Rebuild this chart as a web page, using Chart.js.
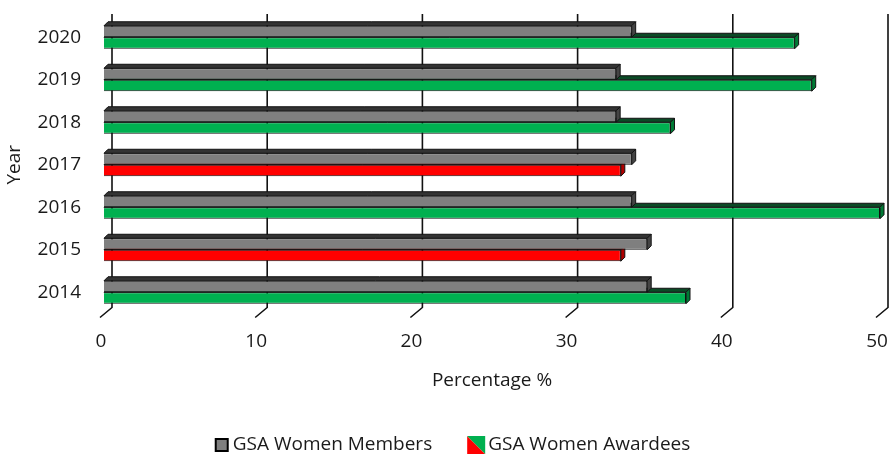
<!DOCTYPE html>
<html>
<head>
<meta charset="utf-8">
<script src="https://cdn.jsdelivr.net/npm/chart.js@4.4.1/dist/chart.umd.min.js"></script>
<style>
  html, body { margin: 0; background: #fff; }
  #wrap { width: 896px; height: 460px; }
</style>
</head>
<body>
<div id="wrap"><canvas id="chart"></canvas></div>
<script>
// data (percent)
var years    = ['2020', '2019', '2018', '2017', '2016', '2015', '2014'];
var members  = [34, 33, 33, 34, 34, 35, 35];
var awardees = [44.5, 45.6, 36.5, 33.3, 50, 33.3, 37.5];
var xTicks   = [0, 10, 20, 30, 40, 50];
var seriesNames = ['GSA Women Members', 'GSA Women Awardees'];

var FONT = '"Open Sans", sans-serif';
var FSIZE = 19;
var GRAY = '#7f7f7f', GREEN = '#00b050', RED = '#ff0000';

// awardees below the member share are drawn red
function awardColor(i) { return awardees[i] < members[i] ? RED : GREEN; }
function faceColors(di, i) {
  if (di === 0) return { top: '#333333', side: '#444444' };
  if (awardColor(i) === RED) return { top: '#7a0000', side: '#b00000' };
  return { top: '#0b4a26', side: '#007a35' };
}

var DEPTH = 4;

// back-wall grid lines with the little floor step, plus bar depth faces
var threeD = {
  id: 'threeD',
  beforeDatasetsDraw: function (chart) {
    var ctx = chart.ctx, area = chart.chartArea, xs = chart.scales.x;
    ctx.save();
    ctx.strokeStyle = '#111';
    ctx.lineWidth = 1.6;
    xTicks.forEach(function (v) {
      var px = xs.getPixelForValue(v);
      ctx.beginPath();
      ctx.moveTo(px + 8, area.top - 2);
      ctx.lineTo(px + 8, area.bottom - 6);
      ctx.lineTo(px - 4, area.bottom + 4);
      ctx.stroke();
    });

    ctx.lineWidth = 1;
    ctx.strokeStyle = '#111';
    [1, 0].forEach(function (di) {
      chart.getDatasetMeta(di).data.forEach(function (bar, i) {
        var p = bar.getProps(['x', 'y', 'base', 'height'], true);
        var x0 = p.base, x1 = p.x, y0 = p.y - p.height / 2, y1 = p.y + p.height / 2;
        var c = faceColors(di, i);
        ctx.fillStyle = c.top;
        ctx.beginPath();
        ctx.moveTo(x0, y0);
        ctx.lineTo(x0 + DEPTH, y0 - DEPTH);
        ctx.lineTo(x1 + DEPTH, y0 - DEPTH);
        ctx.lineTo(x1, y0);
        ctx.closePath();
        ctx.fill(); ctx.stroke();
        ctx.fillStyle = c.side;
        ctx.beginPath();
        ctx.moveTo(x1, y0);
        ctx.lineTo(x1 + DEPTH, y0 - DEPTH);
        ctx.lineTo(x1 + DEPTH, y1 - DEPTH);
        ctx.lineTo(x1, y1);
        ctx.closePath();
        ctx.fill(); ctx.stroke();
      });
    });
    ctx.restore();
  }
};

// legend drawn under the axis title
var bottomLegend = {
  id: 'bottomLegend',
  afterDraw: function (chart) {
    var ctx = chart.ctx;
    ctx.save();
    ctx.font = FSIZE + 'px ' + FONT;
    ctx.textBaseline = 'middle';
    var w1 = ctx.measureText(seriesNames[0]).width;
    var w2 = ctx.measureText(seriesNames[1]).width;
    var total = 12 + 5 + w1 + 35 + 18 + 3 + w2;
    var x = 453 - total / 2, cy = 445;
    ctx.fillStyle = GRAY;
    ctx.fillRect(x, cy - 6, 12, 12);
    ctx.strokeStyle = '#000';
    ctx.lineWidth = 2;
    ctx.strokeRect(x, cy - 6, 12, 12);
    x += 17;
    ctx.fillStyle = '#1a1a1a';
    ctx.fillText(seriesNames[0], x, cy);
    x += w1 + 35;
    ctx.fillStyle = RED;
    ctx.beginPath();
    ctx.moveTo(x, cy - 9); ctx.lineTo(x + 18, cy + 9); ctx.lineTo(x, cy + 9);
    ctx.closePath(); ctx.fill();
    ctx.fillStyle = GREEN;
    ctx.beginPath();
    ctx.moveTo(x, cy - 9); ctx.lineTo(x + 18, cy - 9); ctx.lineTo(x + 18, cy + 9);
    ctx.closePath(); ctx.fill();
    x += 21;
    ctx.fillStyle = '#1a1a1a';
    ctx.fillText(seriesNames[1], x, cy);
    ctx.restore();
  }
};

new Chart(document.getElementById('chart'), {
  type: 'bar',
  data: {
    labels: years,
    datasets: [
      {
        label: seriesNames[0],
        data: members,
        backgroundColor: GRAY,
        borderColor: '#111',
        borderWidth: 1
      },
      {
        label: seriesNames[1],
        data: awardees,
        backgroundColor: years.map(function (y, i) { return awardColor(i); }),
        borderColor: '#111',
        borderWidth: 1
      }
    ]
  },
  options: {
    indexAxis: 'y',
    responsive: true,
    maintainAspectRatio: false,
    animation: false,
    categoryPercentage: 0.54,
    barPercentage: 1.0,
    layout: { padding: { top: 16, right: 16, left: 0, bottom: 64.5 } },
    plugins: {
      legend: { display: false },
      tooltip: { enabled: false }
    },
    scales: {
      x: {
        min: 0,
        max: 50,
        afterBuildTicks: function (scale) {
          scale.ticks = xTicks.map(function (v) { return { value: v }; });
        },
        afterFit: function (scale) {
          scale.height = 82;
          scale.paddingLeft = 0; scale.paddingRight = 0;
          scale.paddingTop = 0; scale.paddingBottom = 0;
        },
        grid: { display: false, drawTicks: false },
        border: { display: false },
        ticks: {
          padding: 17,
          labelOffset: -3,
          color: '#1a1a1a',
          font: { family: FONT, size: FSIZE }
        },
        title: {
          display: true,
          text: 'Percentage %',
          color: '#1a1a1a',
          font: { family: FONT, size: FSIZE },
          padding: { top: 0, bottom: 4 }
        }
      },
      y: {
        afterFit: function (scale) {
          scale.width = 104;
          scale.paddingLeft = 0; scale.paddingRight = 0;
          scale.paddingTop = 0; scale.paddingBottom = 0;
        },
        grid: { display: false, drawTicks: false },
        border: { display: false },
        ticks: {
          padding: 23,
          color: '#1a1a1a',
          font: { family: FONT, size: FSIZE }
        },
        title: {
          display: true,
          text: 'Year',
          color: '#1a1a1a',
          font: { family: FONT, size: FSIZE },
          padding: { top: 3, bottom: 0 }
        }
      }
    }
  },
  plugins: [threeD, bottomLegend]
});
</script>
</body>
</html>
